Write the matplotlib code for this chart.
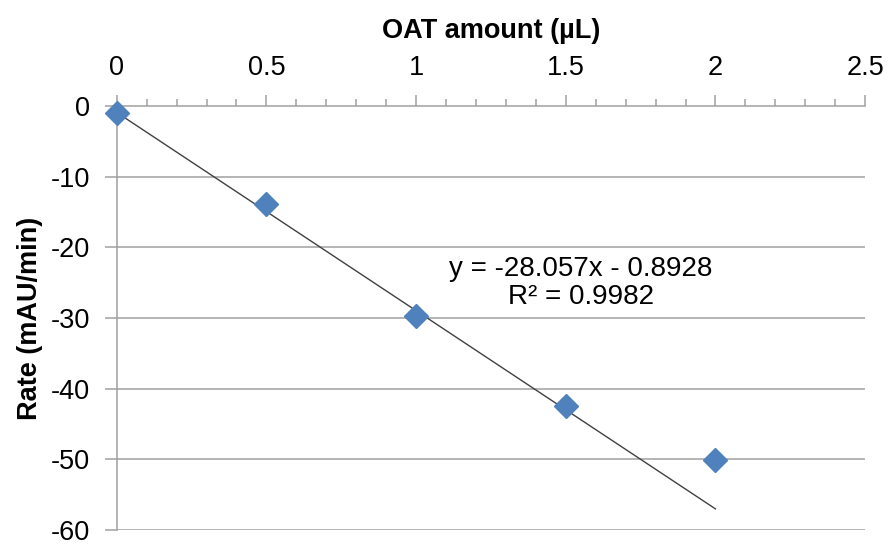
import matplotlib
matplotlib.use("Agg")
import matplotlib.pyplot as plt
import numpy as np
from matplotlib.ticker import MultipleLocator

plt.rcParams['font.family'] = ['Liberation Sans', 'DejaVu Sans']

oat_amount = [0, 0.5, 1.0, 1.5, 2.0]
rate = [-1.0, -13.9, -29.7, -42.5, -50.1]
slope = -28.057
intercept = -0.8928
x_ticks = [0, 0.5, 1, 1.5, 2, 2.5]
y_ticks = [0, -10, -20, -30, -40, -50, -60]

fig = plt.figure(figsize=(8.91, 5.47), dpi=100)
ax = fig.add_axes([0.131, 0.031, 0.84, 0.775])

grid_c = '#A0A0A0'
for y in y_ticks[1:]:
    ax.axhline(y, color=grid_c, lw=1.1, zorder=1)

fit_x = np.array([oat_amount[0], oat_amount[-1]])
ax.plot(fit_x, slope * fit_x + intercept, color='#404040', lw=1.0, zorder=2)
ax.plot(oat_amount, rate, linestyle='none', marker='D', ms=12.5,
        color='#4F81BD', zorder=3, clip_on=False)

ax.set_xlim(0, 2.5)
ax.set_ylim(-60, 0)
ax.xaxis.tick_top()
ax.xaxis.set_label_position('top')
ax.set_xticks(x_ticks)
ax.set_xticklabels(['0', '0.5', '1', '1.5', '2', '2.5'])
ax.xaxis.set_minor_locator(MultipleLocator(0.1))
ax.set_yticks(y_ticks)
ax.set_yticklabels([str(v) for v in y_ticks])

for s in ['right', 'bottom']:
    ax.spines[s].set_visible(False)
for s in ['left', 'top']:
    ax.spines[s].set_color(grid_c)
    ax.spines[s].set_linewidth(1.1)

fs = 19.5
ax.tick_params(axis='x', which='major', direction='out', length=8, width=1.1,
               color=grid_c, labelsize=fs, pad=10)
ax.tick_params(axis='x', which='minor', direction='out', length=5, width=1.1,
               color=grid_c)
ax.tick_params(axis='y', which='major', direction='out', length=9, width=1.1,
               color=grid_c, labelsize=fs, pad=10)

ax.set_xlabel('OAT amount (µL)', fontsize=fs, fontweight='bold', labelpad=12)
ax.set_ylabel('Rate (mAU/min)', fontsize=fs, fontweight='bold', labelpad=6)

ax.text(1.551, -25.0, 'y = -28.057x - 0.8928\nR² = 0.9982', fontsize=20,
        ha='center', va='center', linespacing=1.1)

fig.savefig('out.png', dpi=100)
